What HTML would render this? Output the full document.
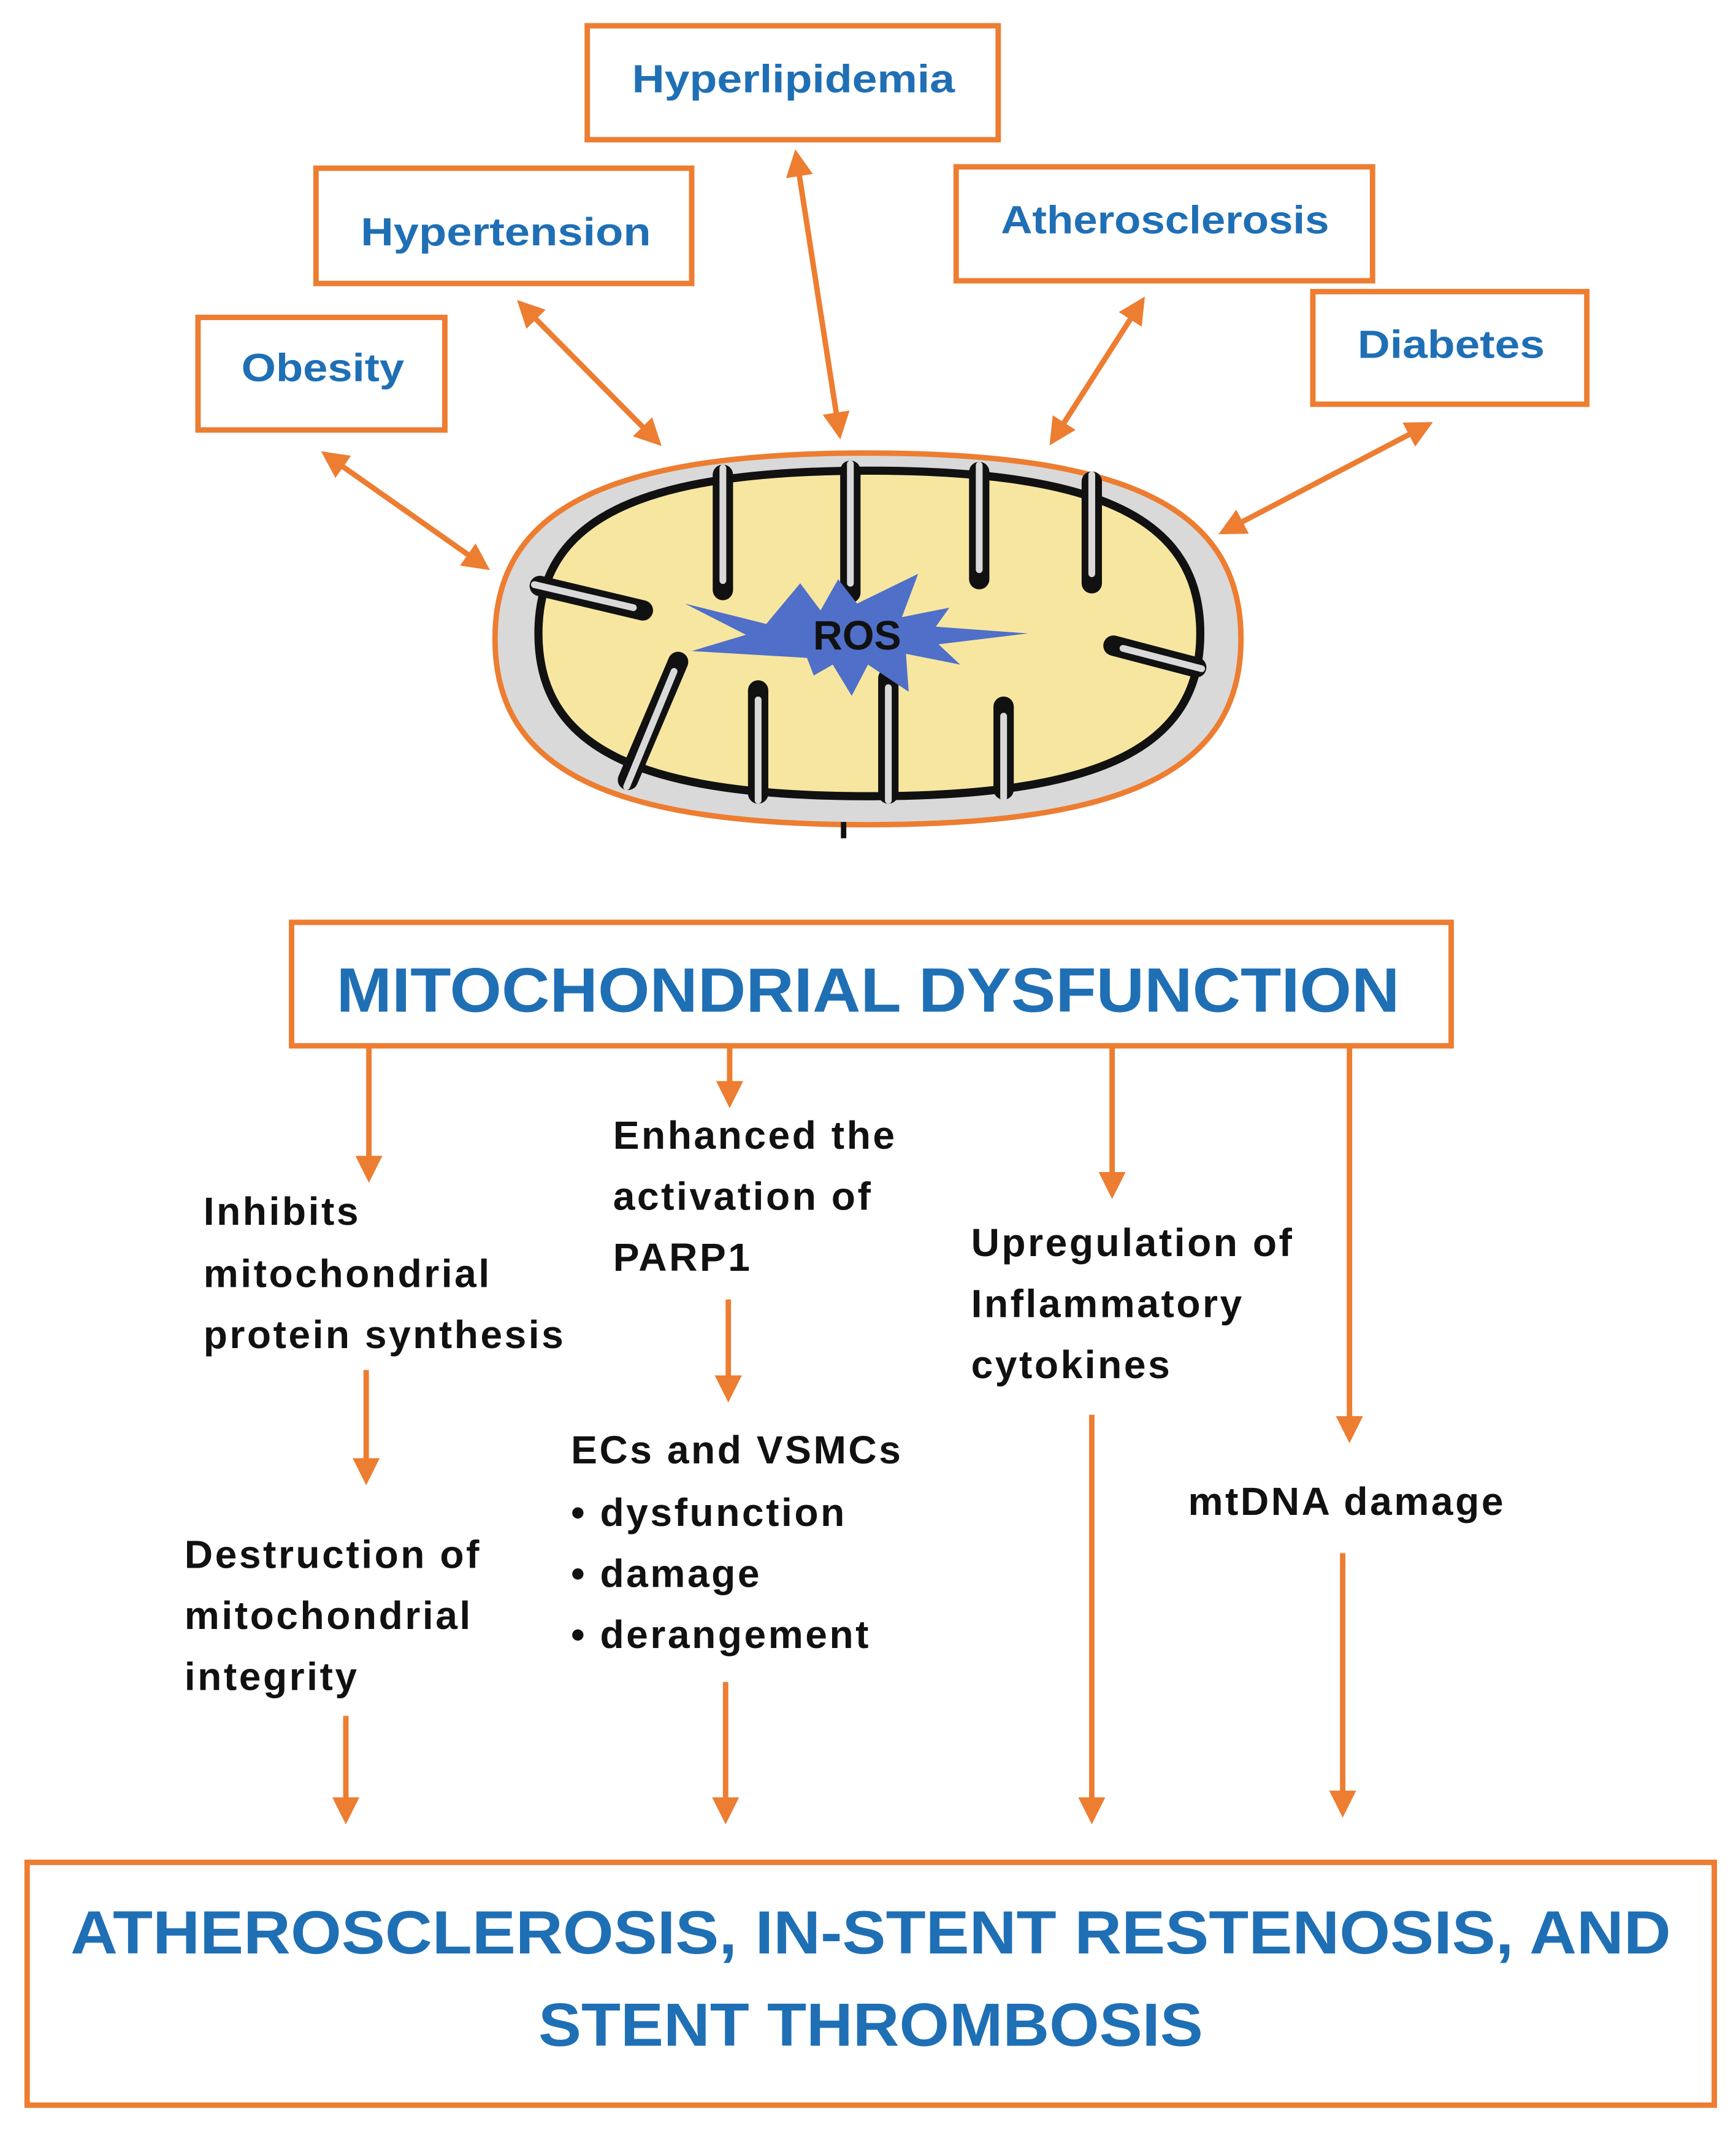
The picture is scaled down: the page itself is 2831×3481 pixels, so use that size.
<!DOCTYPE html>
<html><head><meta charset="utf-8"><style>
html,body{margin:0;padding:0;background:#fff;}
svg{display:block;}
</style></head><body>
<svg width="2831" height="3481" viewBox="0 0 1280 1574" preserveAspectRatio="none" xmlns="http://www.w3.org/2000/svg">
<defs>
<marker id="ah" viewBox="0 0 10 10" refX="8" refY="5" markerWidth="5" markerHeight="5" orient="auto-start-reverse" markerUnits="strokeWidth">
<path d="M0,0 L10,5 L0,10 z" fill="#ed7d31"/>
</marker>
</defs>
<rect width="1280" height="1574" fill="#fff"/>
<g fill="#fff" stroke="#ed7d31" stroke-width="4">
<rect x="433" y="19" width="303" height="84"/>
<rect x="233" y="124" width="277" height="85"/>
<rect x="146" y="234" width="182" height="83"/>
<rect x="705" y="123" width="307" height="84"/>
<rect x="968" y="215" width="202" height="83"/>
<rect x="215" y="680" width="855" height="91"/>
<rect x="20" y="1373" width="1244" height="179"/>
</g>
<g font-family="Liberation Sans, sans-serif" font-weight="bold" fill="#1f6fb5" text-anchor="middle" dominant-baseline="central">
<text x="585" y="58" font-size="29" textLength="238" lengthAdjust="spacingAndGlyphs">Hyperlipidemia</text>
<text x="373" y="171" font-size="29" textLength="214" lengthAdjust="spacingAndGlyphs">Hypertension</text>
<text x="238" y="271" font-size="29" textLength="120" lengthAdjust="spacingAndGlyphs">Obesity</text>
<text x="859" y="162" font-size="29" textLength="242" lengthAdjust="spacingAndGlyphs">Atherosclerosis</text>
<text x="1070" y="254" font-size="29" textLength="138" lengthAdjust="spacingAndGlyphs">Diabetes</text>
<text x="640" y="730" font-size="46" textLength="784" lengthAdjust="spacingAndGlyphs">MITOCHONDRIAL DYSFUNCTION</text>
<text x="642" y="1425" font-size="45" textLength="1180" lengthAdjust="spacingAndGlyphs">ATHEROSCLEROSIS, IN-STENT RESTENOSIS, AND</text>
<text x="642" y="1493" font-size="45" textLength="490" lengthAdjust="spacingAndGlyphs">STENT THROMBOSIS</text>
</g>
<g stroke="#ed7d31" stroke-width="4" fill="none" marker-start="url(#ah)" marker-end="url(#ah)">
<line x1="240" y1="335" x2="358" y2="418"/>
<line x1="384" y1="224" x2="485" y2="326"/>
<line x1="587" y1="114" x2="619" y2="320"/>
<line x1="842" y1="222" x2="776" y2="325"/>
<line x1="1053" y1="313" x2="902" y2="392"/>
</g>
<g stroke="#ed7d31" stroke-width="4" fill="none" marker-end="url(#ah)">
<line x1="272" y1="773" x2="272" y2="868"/>
<line x1="538" y1="773" x2="538" y2="813"/>
<line x1="820" y1="770" x2="820" y2="880"/>
<line x1="995" y1="772" x2="995" y2="1060"/>
<line x1="270" y1="1010" x2="270" y2="1091"/>
<line x1="537" y1="958" x2="537" y2="1030"/>
<line x1="255" y1="1265" x2="255" y2="1341"/>
<line x1="535" y1="1240" x2="535" y2="1341"/>
<line x1="805" y1="1043" x2="805" y2="1341"/>
<line x1="990" y1="1145" x2="990" y2="1336"/>
</g>
<!-- mitochondrion -->
<path d="M 365,471 C 365,375 448,334 640,334 C 832,334 915,375 915,471 C 915,567 832,608 640,608 C 448,608 365,567 365,471 Z" fill="#d9d9d9" stroke="#ed7d31" stroke-width="4"/>
<path d="M 397,467 C 397,383 470,347 641,347 C 812,347 885,383 885,467 C 885,551 812,587 641,587 C 470,587 397,551 397,467 Z" fill="#f7e6a0" stroke="#111" stroke-width="6"/>
<g stroke-linecap="round" fill="none">
<g stroke="#111" stroke-width="15">
<line x1="533" y1="350" x2="533" y2="435"/>
<line x1="627" y1="347" x2="627" y2="437"/>
<line x1="722" y1="348" x2="722" y2="427"/>
<line x1="805" y1="355" x2="805" y2="430"/>
<line x1="500" y1="488" x2="463" y2="575"/>
<line x1="559" y1="509" x2="559" y2="585"/>
<line x1="655" y1="500" x2="655" y2="585"/>
<line x1="740" y1="521" x2="740" y2="582"/>
<line x1="398" y1="432" x2="474" y2="450"/>
<line x1="882" y1="492" x2="821" y2="476"/>
</g>
<g stroke="#d9d9d9" stroke-width="5">
<line x1="533" y1="345" x2="533" y2="428"/>
<line x1="627" y1="342" x2="627" y2="430"/>
<line x1="722" y1="343" x2="722" y2="420"/>
<line x1="805" y1="350" x2="805" y2="423"/>
<line x1="497" y1="495" x2="462" y2="580"/>
<line x1="559" y1="516" x2="559" y2="590"/>
<line x1="655" y1="507" x2="655" y2="590"/>
<line x1="740" y1="528" x2="740" y2="588"/>
<line x1="394" y1="431" x2="467" y2="448"/>
<line x1="886" y1="493" x2="828" y2="478"/>
</g>
</g>
<polygon fill="#4f6fc8" points="505,445 565,460 590,430 605,450 618,427 632,445 677,423 665,455 700,448 690,462 758,467 692,475 708,490 668,482 670,510 640,490 628,513 614,490 600,498 595,485 510,480 550,468"/>
<text x="632" y="469" font-family="Liberation Sans, sans-serif" font-weight="bold" font-size="30" fill="#111" text-anchor="middle" dominant-baseline="central">ROS</text>
<rect x="620" y="606" width="4" height="12" fill="#111"/>
<g font-family="Liberation Sans, sans-serif" font-weight="bold" font-size="29" letter-spacing="1.6" fill="#111" dominant-baseline="central">
<text x="150" y="893">Inhibits</text>
<text x="150" y="939">mitochondrial</text>
<text x="150" y="984" textLength="267" lengthAdjust="spacingAndGlyphs">protein synthesis</text>
<text x="452" y="837">Enhanced the</text>
<text x="452" y="882">activation of</text>
<text x="452" y="927">PARP1</text>
<text x="716" y="916">Upregulation of</text>
<text x="716" y="961">Inflammatory</text>
<text x="716" y="1006">cytokines</text>
<text x="421" y="1069">ECs and VSMCs</text>
<text x="421" y="1115">• dysfunction</text>
<text x="421" y="1160">• damage</text>
<text x="421" y="1205">• derangement</text>
<text x="136" y="1146">Destruction of</text>
<text x="136" y="1191">mitochondrial</text>
<text x="136" y="1236">integrity</text>
<text x="876" y="1107">mtDNA damage</text>
</g>
</svg>
</body></html>
